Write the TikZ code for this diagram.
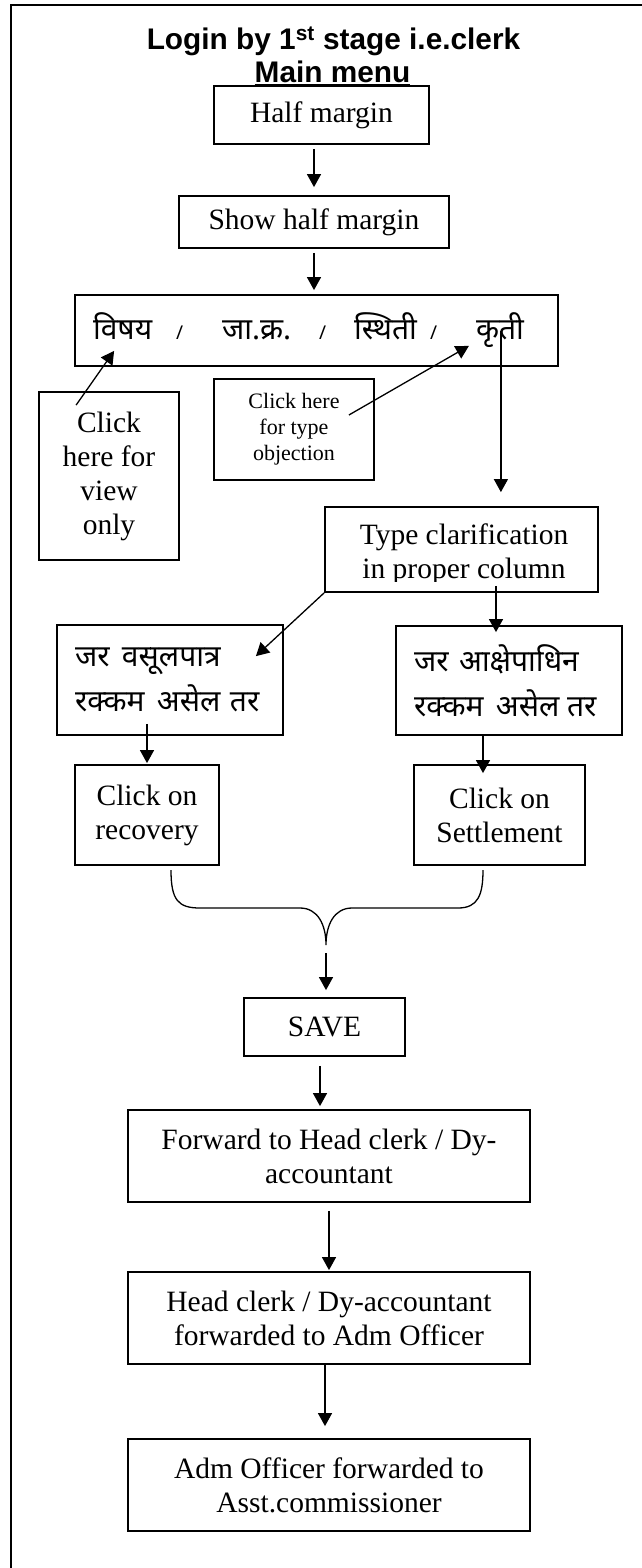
\documentclass[tikz,border=0pt]{standalone}
\usepackage{fontspec}
\setmainfont{Liberation Serif}
\newfontfamily\headfont{Liberation Sans}
\newfontfamily\devfont[Script=Devanagari]{Noto Sans}
\usepackage{tikz}
\usetikzlibrary{calc,arrows.meta}
\definecolor{ink}{HTML}{000000}
\definecolor{paper}{HTML}{FFFFFF}
\tikzset{
  frame/.style={draw=ink, line width=2.4pt},
  box/.style={draw=ink, line width=1.8pt, rectangle, inner sep=0pt, align=center,
    font=\fontsize{29.5}{34}\selectfont},
  smallbox/.style={box, font=\fontsize{22}{26}\selectfont},
  devbox/.style={box, align=left, inner xsep=18pt, font=\devfont\fontsize{30}{45}\selectfont},
  arr/.style={draw=ink, line width=1.3pt, -{Triangle[length=13pt,width=14pt]}},
  brace/.style={draw=ink, line width=1.3pt},
  title/.style={inner sep=0pt, font=\headfont\bfseries\fontsize{29.8}{33}\selectfont}
}
% fixed word starts for the Devanagari lines
\newcommand{\dword}[2]{\makebox[#1][l]{#2}}
\newcommand{\dslash}{{\fontsize{19}{19}\selectfont /}}

\begin{document}
\begin{tikzpicture}[x=1pt,y=-1pt]
  \fill[paper] (0,0) rectangle (642,1568);
  \useasboundingbox (0,0) rectangle (642,1568);
  \draw[frame] (642,5) -- (11,5) -- (11,1568);

  \node[title, anchor=base] (login) at (333.5,50) {Login by 1\textsuperscript{st} stage i.e.clerk};
  \node[title, anchor=base] (mainmenu) at (332.5,83) {\underline{Main menu}};

  \node[box, minimum width=215pt, minimum height=58pt] (half) at (321.5,115) {Half margin};
  \node[box, minimum width=270pt, minimum height=52pt] (show) at (314,222) {Show half margin};
  \node[devbox, text width=447pt, minimum height=71pt] (cols) at (316.5,330.5)
    {\dword{83pt}{विषय}\dword{46pt}{\dslash}\dword{97pt}{जा.क्र.}\dword{35pt}{\dslash}\dword{76pt}{स्थिती}\dword{46pt}{\dslash}कृती};

  \node[box, minimum width=140pt, minimum height=168pt] (view) at (109,476) {Click\\here for\\view\\only};
  \node[smallbox, minimum width=160pt, minimum height=101pt] (obj) at (294,429.5) {Click here\\for type\\objection};

  \node[box, minimum width=273pt, minimum height=85pt] (clar) at (461.5,549.5) {};
  \begin{scope}
    \clip (clar.north west) rectangle ([yshift=11pt]clar.south east);
    \node[box, draw=none] (clartext) at (464,554.7) {Type clarification\\in proper column};
  \end{scope}

  \node[devbox, text width=190pt, minimum height=110pt] (recif) at (170,680)
    {\dword{47pt}{जर}वसूलपात्र\\\dword{82pt}{रक्कम}\dword{73pt}{असेल}तर};
  \node[devbox, text width=190pt, minimum height=109pt] (objif) at (509,680.5)
    {\dword{45pt}{जर}आक्षेपाधिन\\\dword{82pt}{रक्कम}\dword{71pt}{असेल}तर};

  \node[box, minimum width=144pt, minimum height=100pt] (rec) at (147,815) {Click on\\recovery};
  \node[box, minimum width=171pt, minimum height=100pt] (settle) at (499.5,815) {Click on\\Settlement};

  \node[box, minimum width=161pt, minimum height=58pt] (save) at (324.5,1027) {SAVE};
  \node[box, minimum width=402pt, minimum height=92pt] (fwd) at (329,1156) {Forward to Head clerk / Dy-\\accountant};
  \node[box, minimum width=402pt, minimum height=92pt] (head) at (329,1318) {Head clerk / Dy-accountant\\forwarded to Adm Officer};
  \node[box, minimum width=402pt, minimum height=92pt] (adm) at (329,1485) {Adm Officer forwarded to\\Asst.commissioner};

  \coordinate (kriti) at ([xshift=-58pt]cols.east);
  \coordinate (clarfoot) at ([xshift=34.5pt]clar.south);
  \coordinate (setin) at ([xshift=-16.5pt]settle.north);
  \coordinate (savefoot) at ([xshift=-4.5pt]save.south);
  \coordinate (headfoot) at ([xshift=-4pt]head.south);
  \coordinate (bl) at (171,870);
  \coordinate (br) at (483,870);
  \coordinate (bt) at (326,945);

  \draw[arr, shorten <=4pt, shorten >=8pt] (half.south -| show.north) -- (show.north);
  \draw[arr, shorten <=4pt, shorten >=4pt] (show.south) -- (show.south |- cols.north);
  \draw[arr] ([xshift=38pt,yshift=-14pt]view.north west) -- ([xshift=40pt,yshift=16pt]cols.south west);
  \draw[arr] ([xshift=-26pt,yshift=14.5pt]obj.east) -- ([xshift=-90pt,yshift=21pt]cols.south east);
  \draw[arr, shorten >=14pt] (kriti) -- (kriti |- clar.north);
  \draw[arr] (clar.south west) -- ([xshift=-28pt,yshift=-32pt]recif.north east);
  \draw[arr, shorten <=-7pt, shorten >=-7pt] (clarfoot) -- (clarfoot |- objif.north);
  \draw[arr, shorten <=-12pt, shorten >=1pt] (rec.north |- recif.south) -- (rec.north);
  \draw[arr, shorten >=-9pt] (setin |- objif.south) -- (setin);

  \draw[brace] (bl) .. controls (171,900) and (178,908) .. (200,908) -- (300,908)
    .. controls (318,908) and (326,925) .. (bt)
    .. controls (326,925) and (334,908) .. (352,908) -- (458,908)
    .. controls (478,908) and (483,895) .. (br);

  \draw[arr, shorten <=8pt, shorten >=7pt] (bt) -- (bt |- save.north);
  \draw[arr, shorten <=9pt, shorten >=3pt] (savefoot) -- (savefoot |- fwd.north);
  \draw[arr, shorten <=8pt, shorten >=1pt] (fwd.south) -- (head.north);
  \draw[arr, shorten >=12pt] (headfoot) -- (headfoot |- adm.north);
\end{tikzpicture}
\end{document}
